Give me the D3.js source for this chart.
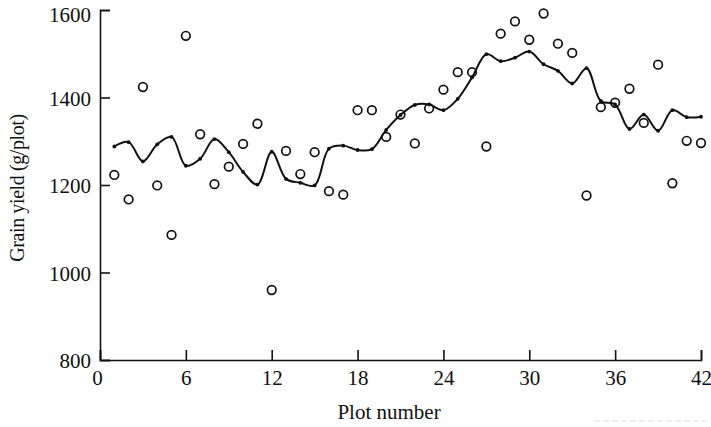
<!DOCTYPE html>
<html>
<head>
<meta charset="utf-8">
<script src="https://cdn.jsdelivr.net/npm/d3@7"></script>
<style>
  body { margin: 0; background: #fff; }
  text { font-family: "Liberation Serif", "DejaVu Serif", serif; fill: #111; }
</style>
</head>
<body>
<div class="grafico"></div>
<script>
// numero della parcella
var parcelle = d3.range(1, 43);

// resa osservata (cerchi vuoti)
var resaOsservata = [1223, 1167, 1424, 1199, 1086, 1541, 1316, 1202, 1242, 1294,
                     1340, 960, 1278, 1225, 1275, 1186, 1178, 1371, 1371, 1310,
                     1361, 1295, 1375, 1418, 1458, 1458, 1288, 1546, 1574, 1532,
                     1592, 1523, 1502, 1176, 1378, 1388, 1420, 1342, 1475, 1204,
                     1301, 1296];

// resa stimata (linea con punti)
var resaStimata = [1288, 1298, 1254, 1293, 1310, 1244, 1260, 1305, 1275, 1230,
                   1201, 1276, 1214, 1205, 1199, 1283, 1290, 1280, 1282, 1326,
                   1360, 1383, 1384, 1371, 1397, 1446, 1499, 1483, 1491, 1505,
                   1476, 1461, 1432, 1467, 1392, 1384, 1328, 1361, 1324, 1371,
                   1355, 1356];

var tickX = [0, 6, 12, 18, 24, 30, 36, 42];
var tickY = [800, 1000, 1200, 1400, 1600];

var w = 711,
    h = 427;

var svg = d3.select(".grafico")
    .append("svg")
    .attr("width", w)
    .attr("height", h);

var scalaX = d3.scaleLinear()
    .domain([0, 42])
    .range([100, 701]);

var scalaY = d3.scaleLinear()
    .domain([800, 1600])
    .range([360, 10]);

// assi con tacche verso l'interno
var assey = svg.append("g")
    .attr("transform", "translate(100,0)")
    .call(d3.axisLeft(scalaY).tickValues(tickY).tickFormat(d3.format("d"))
        .tickSize(-10).tickPadding(9));

var assex = svg.append("g")
    .attr("transform", "translate(0,360)")
    .call(d3.axisBottom(scalaX).tickValues(tickX).tickFormat(d3.format("d"))
        .tickSize(-10).tickPadding(10));

svg.selectAll(".domain, .tick line")
    .attr("stroke", "#111")
    .attr("stroke-width", 1.6);

svg.selectAll(".tick text")
    .attr("font-family", "Liberation Serif")
    .attr("font-size", 21)
    .attr("fill", "#111");

// l'etichetta 1600 sta un po' più in basso per non uscire dal bordo
assey.selectAll(".tick text")
    .attr("y", function (d) { return d == 1600 ? 5 : 1; });

assex.selectAll(".tick text")
    .attr("x", function (d) { return d == 0 ? -3 : 0; });

// titoli degli assi
svg.append("text")
    .attr("x", 389)
    .attr("y", 419)
    .attr("text-anchor", "middle")
    .attr("font-size", 21)
    .text("Plot number");

svg.append("text")
    .attr("transform", "translate(24,188) rotate(-90)")
    .attr("text-anchor", "middle")
    .attr("font-size", 20)
    .attr("letter-spacing", -0.4)
    .text("Grain yield (g/plot)");

// linea della resa stimata
var linea = d3.line()
    .x(function (d, i) { return scalaX(parcelle[i]); })
    .y(function (d) { return scalaY(d); })
    .curve(d3.curveCatmullRom.alpha(0.5));

svg.append("path")
    .attr("d", linea(resaStimata))
    .attr("fill", "none")
    .attr("stroke", "#111")
    .attr("stroke-width", 2);

svg.selectAll(".puntino")
    .data(resaStimata)
    .enter()
    .append("circle")
    .attr("class", "puntino")
    .attr("cx", function (d, i) { return scalaX(parcelle[i]); })
    .attr("cy", function (d) { return scalaY(d); })
    .attr("r", 1.9)
    .attr("fill", "#111");

// cerchi della resa osservata
svg.selectAll(".cerchio")
    .data(resaOsservata)
    .enter()
    .append("circle")
    .attr("class", "cerchio")
    .attr("cx", function (d, i) { return scalaX(parcelle[i]); })
    .attr("cy", function (d) { return scalaY(d); })
    .attr("r", 4.3)
    .attr("fill", "none")
    .attr("stroke", "#111")
    .attr("stroke-width", 1.7);

// segno grigio in basso a destra (residuo della scansione)
svg.append("line")
    .attr("x1", 594).attr("x2", 706)
    .attr("y1", 421).attr("y2", 421)
    .attr("stroke", "#ddd")
    .attr("stroke-width", 1)
    .attr("stroke-dasharray", "6,3");
</script>
</body>
</html>
